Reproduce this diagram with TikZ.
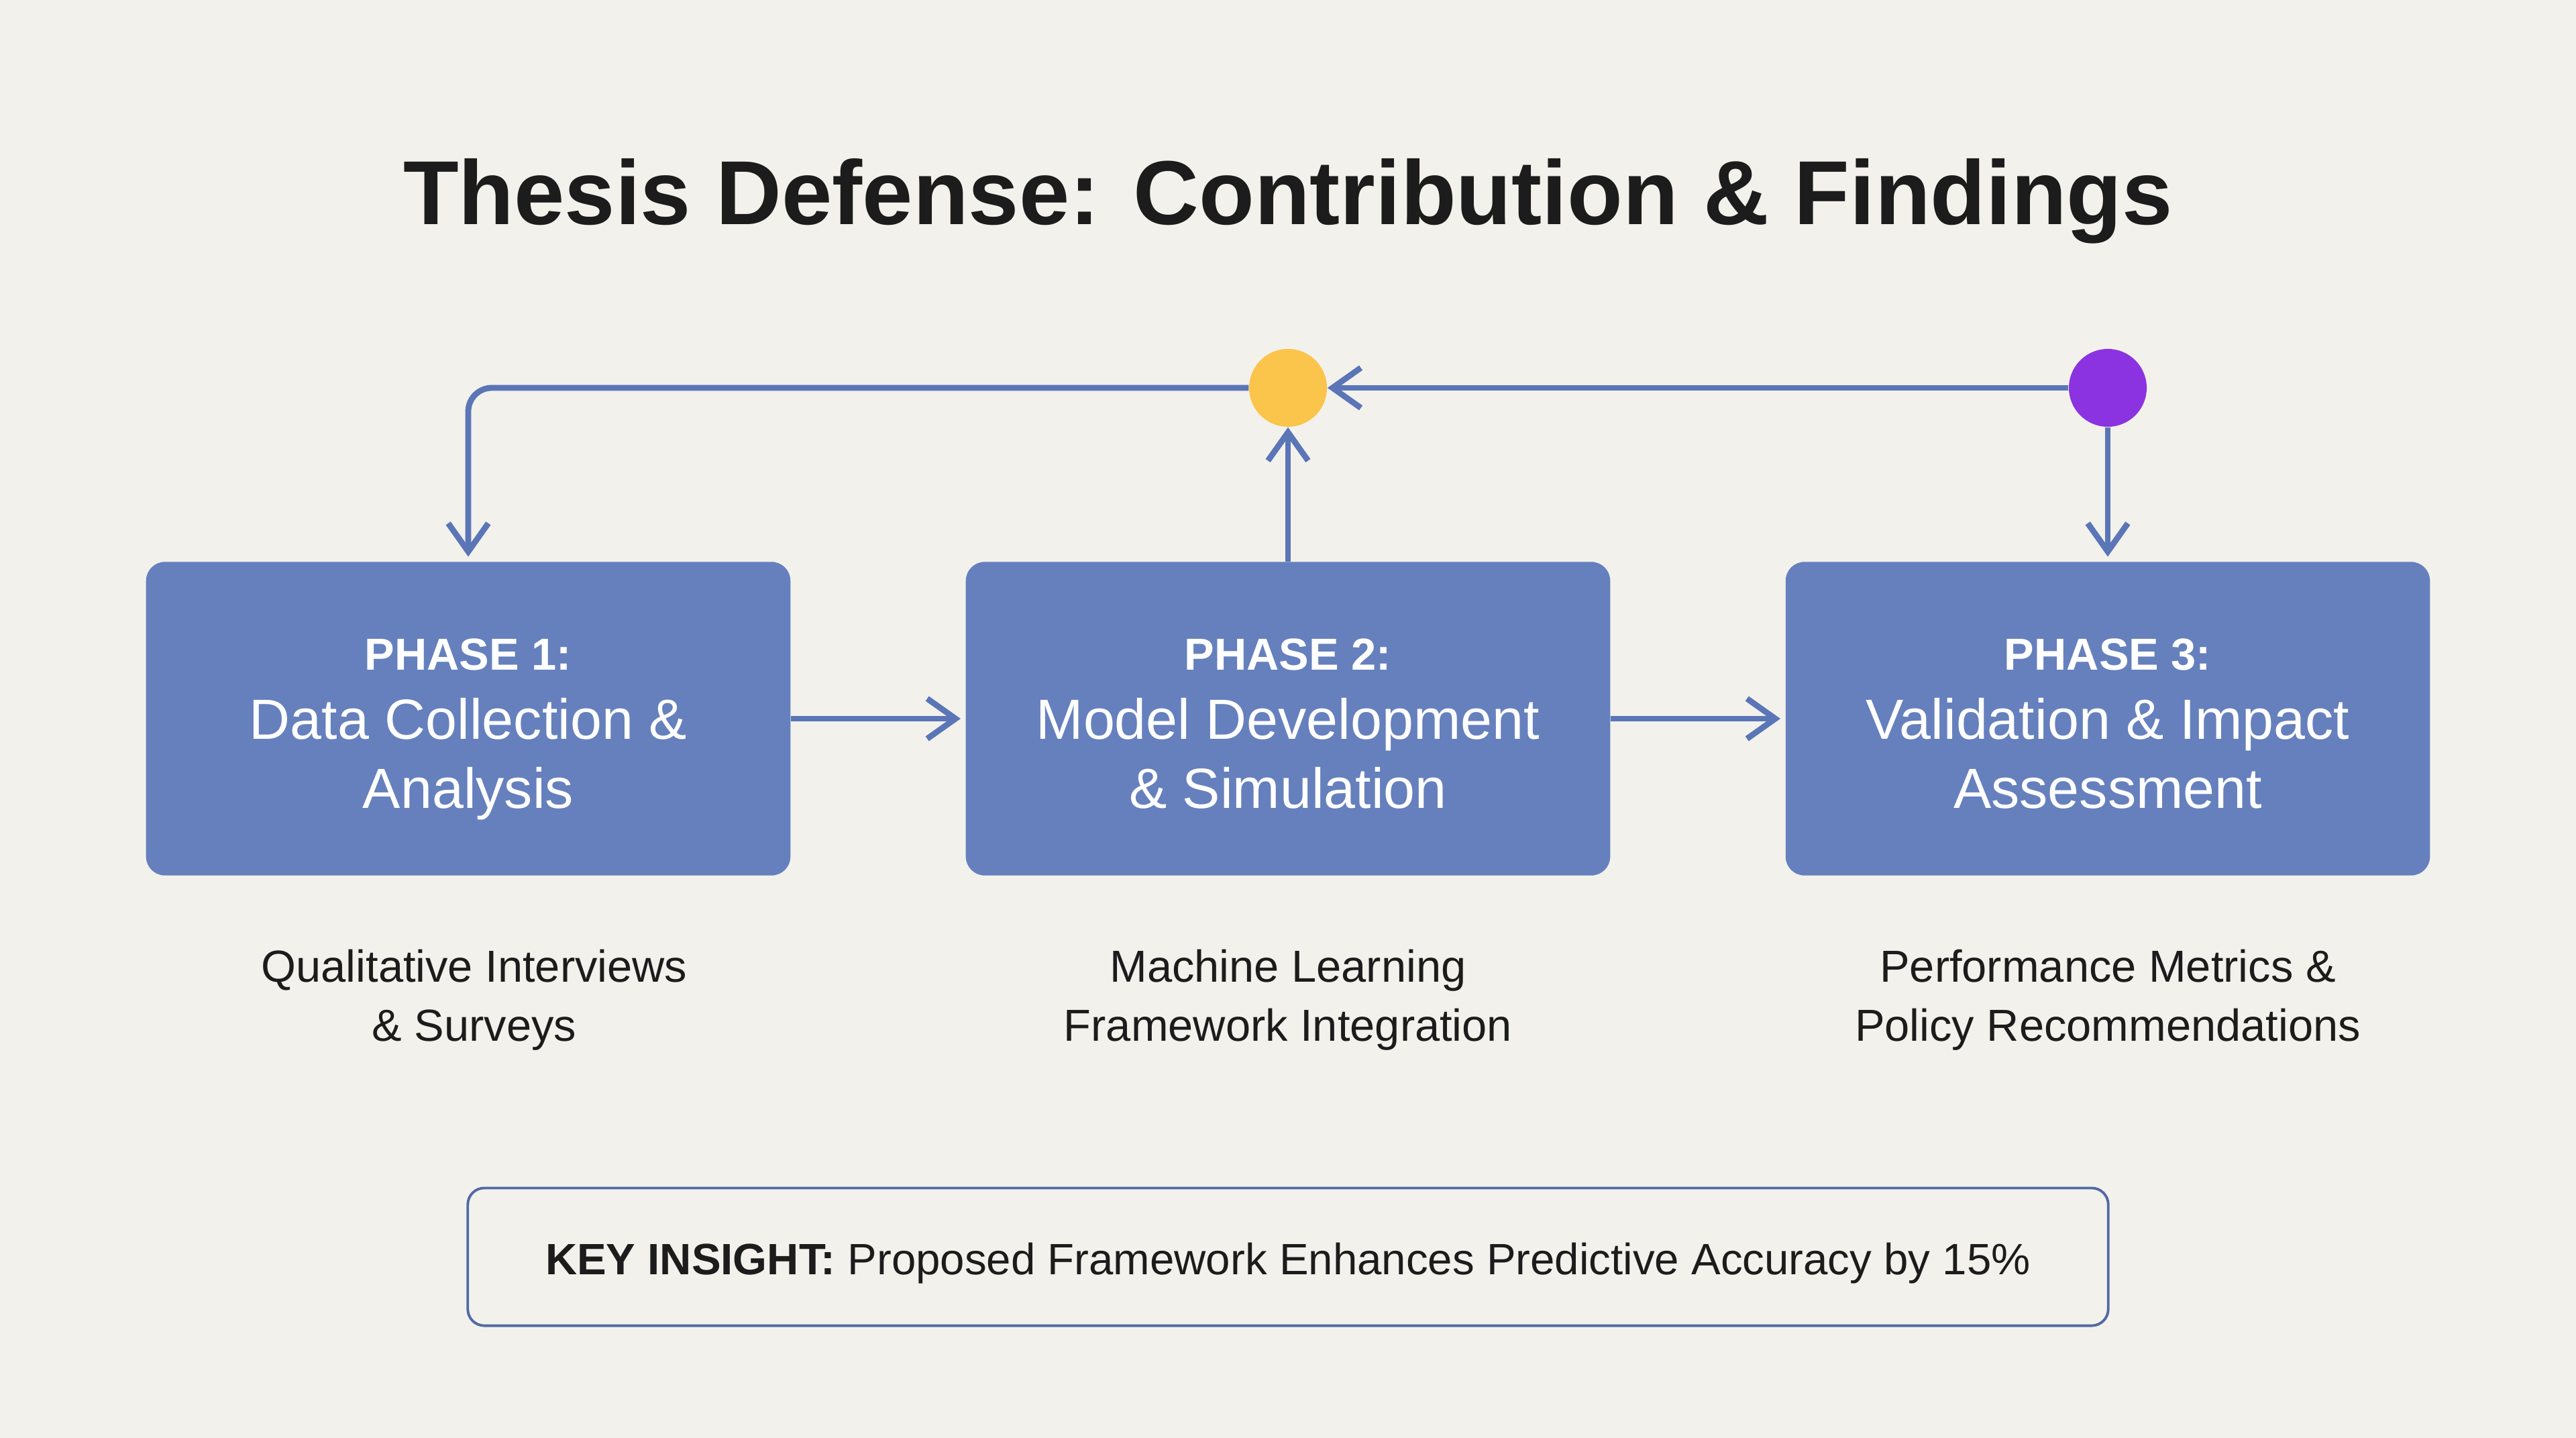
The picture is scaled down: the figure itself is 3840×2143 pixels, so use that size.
\documentclass[tikz,border=0pt]{standalone}
\usepackage{fontspec}
\setmainfont{Liberation Sans}
\usetikzlibrary{arrows.meta}
\definecolor{bg}{HTML}{F2F1EC}
\definecolor{boxblue}{HTML}{6580BD}
\definecolor{lineblue}{HTML}{5B76B6}
\definecolor{dotyellow}{HTML}{FBC44B}
\definecolor{dotpurple}{HTML}{8B33E0}
\definecolor{ink}{HTML}{1C1C1C}
\begin{document}
\begin{tikzpicture}[x=0.01cm,y=-0.01cm,
 phasebox/.style={draw=none, fill=boxblue, rounded corners=8pt, minimum width=9.6cm, minimum height=4.67cm, inner sep=0pt},
 phasetext/.style={text=white, align=center, inner sep=0pt, font=\fontsize{24}{29.3}\selectfont},
 caption/.style={text=ink, align=center, font=\fontsize{19}{25}\selectfont},
 flow/.style={draw=lineblue, line width=2.5pt, -{Straight Barb[length=12pt,width=17pt]}},
 dot/.style={circle, minimum size=1.16cm, inner sep=0pt, draw=none}
]
\fill[bg] (0,0) rectangle (3840,2143);
\useasboundingbox (0,0) rectangle (3840,2143);

\node[text=ink, anchor=base, font=\fontsize{38.5}{46}\selectfont\bfseries] (title) at (1920,335) {Thesis Defense: Contribution \& Findings};

\node[phasebox] (p1) at (698,1071) {};
\node[phasebox] (p2) at (1920,1071) {};
\node[phasebox] (p3) at (3142,1071) {};
\node[phasetext] (p1t) at (698,1087) {{\fontsize{19}{29.3}\selectfont\bfseries PHASE 1:}\\Data Collection \&\\Analysis\vphantom{y}};
\node[phasetext] (p2t) at (1920,1087) {{\fontsize{19}{29.3}\selectfont\bfseries PHASE 2:}\\Model Development\\\& Simulation\vphantom{y}};
\node[phasetext] (p3t) at (3142,1087) {{\fontsize{19}{29.3}\selectfont\bfseries PHASE 3:}\\Validation \& Impact\\Assessment\vphantom{y}};

\node[caption] (c1) at (707,1490) {Qualitative Interviews\\\& Surveys};
\node[caption] (c2) at (1920,1490) {Machine Learning\\Framework Integration};
\node[caption] (c3) at (3142,1490) {Performance Metrics \&\\Policy Recommendations};

\node[dot, fill=dotyellow] (ydot) at (1920,578) {};
\node[dot, fill=dotpurple] (pdot) at (3142,578) {};

\draw[flow, rounded corners=10pt, shorten >=2pt] (ydot.west) -| (p1.north);
\draw[flow] (p2.north) -- (ydot.south);
\draw[flow] (pdot.west) -- (ydot.east);
\draw[flow, shorten >=2pt] (pdot.south) -- (p3.north);
\draw[flow, shorten >=2pt] (p1.east) -- (p2.west);
\draw[flow, shorten >=2pt] (p2.east) -- (p3.west);

\node[draw=lineblue!90!black, line width=1.1pt, rounded corners=7pt, minimum width=24.44cm, minimum height=2.05cm] (key) at (1920,1873) {};
\node[text=ink, font=\fontsize{18.6}{22}\selectfont] (keytext) at (1920,1883) {\textbf{KEY INSIGHT:} Proposed Framework Enhances Predictive Accuracy by 15\%};
\end{tikzpicture}
\end{document}
